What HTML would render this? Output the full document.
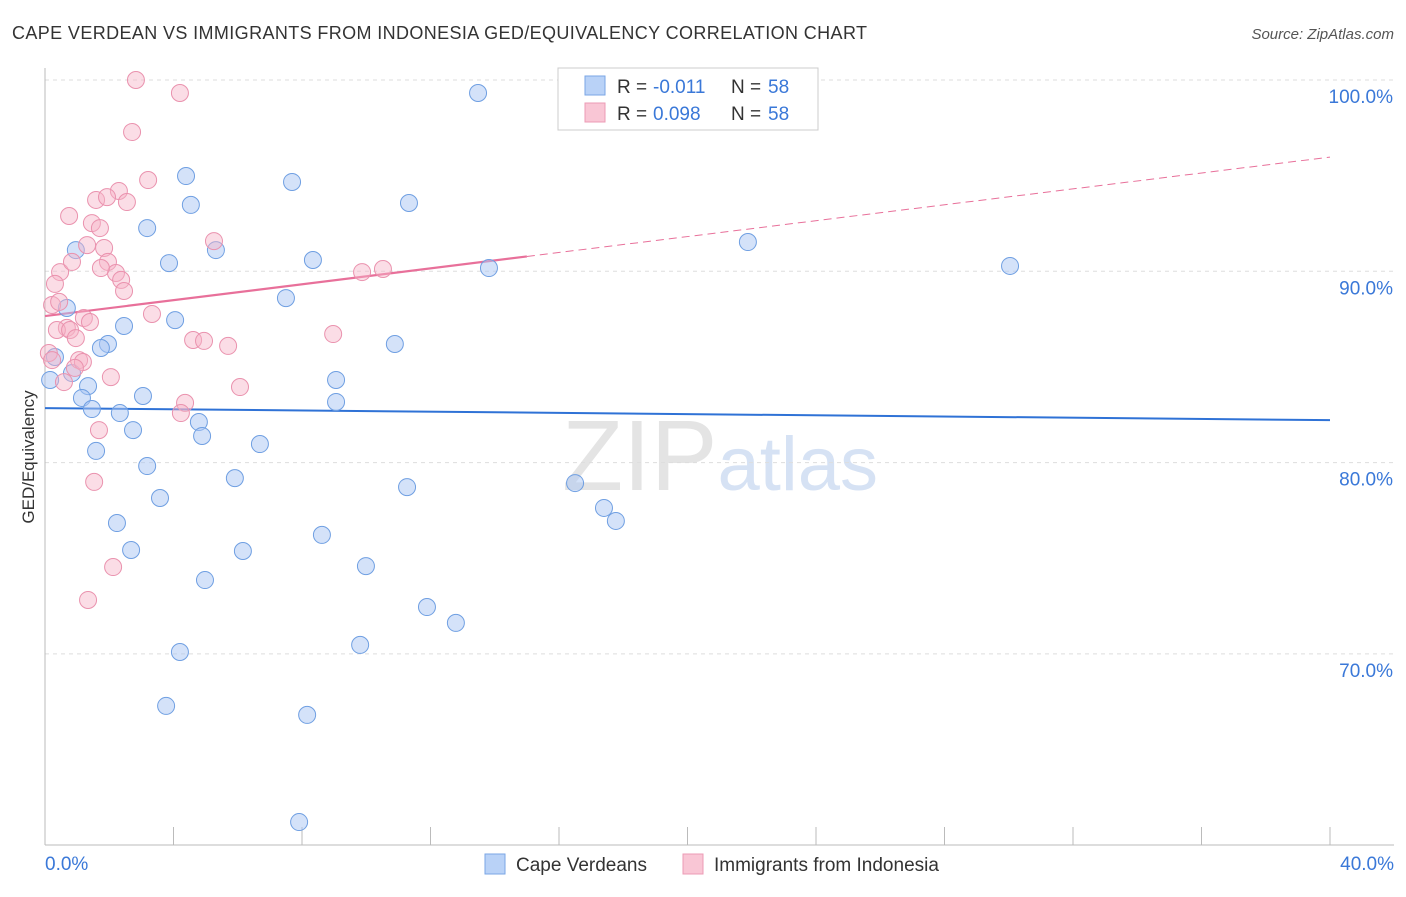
<!DOCTYPE html>
<html><head><meta charset="utf-8">
<style>
body{margin:0;background:#fff;font-family:"Liberation Sans",sans-serif;}
svg text{font-family:"Liberation Sans",sans-serif;}
</style></head>
<body>
<svg id="chart" width="1406" height="892" xmlns="http://www.w3.org/2000/svg">
<text x="12" y="39" font-size="18" fill="#333" textLength="855" lengthAdjust="spacing">CAPE VERDEAN VS IMMIGRANTS FROM INDONESIA GED/EQUIVALENCY CORRELATION CHART</text>
<text x="1394" y="39" font-size="15" fill="#555" text-anchor="end" font-style="italic">Source: ZipAtlas.com</text>
<text x="720" y="490" font-size="96" text-anchor="middle" fill="#e4e4e4" font-family="Liberation Serif"><tspan font-size="100">ZIP</tspan><tspan fill="#d6e2f4" font-family="Liberation Sans" font-size="76">atlas</tspan></text>
<text transform="translate(34,457) rotate(-90)" font-size="17" fill="#333" text-anchor="middle">GED/Equivalency</text>
<g id="grid"></g><g id="axes"></g><g id="trends"></g><g id="points"></g>
<g>
<rect x="558" y="68" width="260" height="62" fill="#fff" stroke="#ccc"/>
<rect x="585" y="76" width="20" height="19" fill="#b9d2f7" stroke="#7aa6e6"/>
<rect x="585" y="103" width="20" height="19" fill="#f9c6d5" stroke="#ec9bb5"/>
<text x="617" y="93" font-size="19" fill="#333">R =</text>
<text x="653" y="93" font-size="19" fill="#3a78d8">-0.011</text>
<text x="731" y="93" font-size="19" fill="#333">N =</text>
<text x="768" y="93" font-size="19" fill="#3a78d8">58</text>
<text x="617" y="120" font-size="19" fill="#333">R =</text>
<text x="653" y="120" font-size="19" fill="#3a78d8">0.098</text>
<text x="731" y="120" font-size="19" fill="#333">N =</text>
<text x="768" y="120" font-size="19" fill="#3a78d8">58</text>
</g>
<g>
<rect x="485" y="854" width="20" height="20" fill="#b9d2f7" stroke="#7aa6e6"/>
<text x="516" y="871" font-size="19" fill="#333">Cape Verdeans</text>
<rect x="683" y="854" width="20" height="20" fill="#f9c6d5" stroke="#ec9bb5"/>
<text x="714" y="871" font-size="19" fill="#333">Immigrants from Indonesia</text>
</g>
</svg>
<script>
const yTicks=[100,90,80,70];
const yTickLabels=["100.0%","90.0%","80.0%","70.0%"];
const xTicks=[0,4,8,12,16,20,24,28,32,36,40];
const blueX=[13.48,4.39,7.69,4.54,11.33,3.18,21.88,5.32,0.96,8.34,3.86,13.82,30.04,7.50,0.68,4.05,2.46,1.96,1.74,10.89,0.31,0.16,0.84,1.34,9.06,3.05,1.15,9.06,1.46,2.33,4.79,2.74,4.89,6.69,1.59,3.18,5.91,11.27,3.58,16.50,17.40,17.77,2.24,8.62,2.68,6.16,9.99,4.98,11.89,12.79,9.81,4.20,3.77,8.16,7.91];
const blueY=[99.32,94.98,94.67,93.47,93.57,92.26,91.53,91.11,91.11,90.59,90.43,90.17,90.28,88.60,88.08,87.45,87.14,86.20,85.99,86.20,85.52,84.32,84.68,84.00,84.32,83.48,83.38,83.17,82.80,82.59,82.12,81.70,81.39,80.97,80.61,79.82,79.19,78.72,78.15,78.93,77.63,76.95,76.84,76.22,75.43,75.38,74.59,73.86,72.45,71.62,70.47,70.10,67.28,66.81,61.21];
const pinkX=[2.83,4.20,2.71,3.21,2.30,1.59,2.55,1.93,0.75,1.46,1.71,1.31,5.26,1.84,0.47,0.84,1.96,2.21,1.74,2.37,2.46,9.87,10.52,0.31,0.22,0.44,1.21,1.40,3.33,0.68,0.37,0.78,0.96,4.61,4.95,5.70,8.97,0.12,0.22,1.06,1.18,0.93,2.05,0.59,6.07,4.36,4.23,1.68,1.53,2.12,1.34];
const pinkY=[100,99.32,97.28,94.77,94.20,93.73,93.62,93.88,92.89,92.52,92.26,91.37,91.58,91.22,89.96,90.49,90.49,89.91,90.17,89.55,88.97,89.96,90.12,89.34,88.24,88.40,87.56,87.35,87.77,87.04,86.93,86.93,86.51,86.41,86.36,86.10,86.72,85.73,85.36,85.36,85.26,84.95,84.47,84.21,83.95,83.12,82.59,81.70,78.99,74.54,72.82];
const blueTrend=[82.85,82.22];
const pinkTrend=[87.66,95.97];
const pinkSolidEnd=15;

const NS="http://www.w3.org/2000/svg";
const X=v=>45+v*32.125;
const Y=v=>80+(100-v)*19.13;
function mk(tag,attrs,parent){const e=document.createElementNS(NS,tag);for(const k in attrs)e.setAttribute(k,attrs[k]);parent.appendChild(e);return e;}
const grid=document.getElementById('grid'),axes=document.getElementById('axes'),trends=document.getElementById('trends'),pts=document.getElementById('points');
yTicks.forEach((t,i)=>{
  const l=mk('line',{x1:45,x2:1394,y1:Y(t),y2:Y(t),stroke:'#ddd','stroke-dasharray':'4,4'},grid);
  
  
  const tx=mk('text',{x:1393,y:Y(t)+23,'font-size':19,fill:'#3a78d8','text-anchor':'end'},grid);
  tx.textContent=yTickLabels[i];
  
  
});
const ax=mk('line',{x1:45,x2:45,y1:68,y2:845,stroke:'#bbb'},axes);


const bx=mk('line',{x1:45,x2:1394,y1:845,y2:845,stroke:'#bbb'},axes);


xTicks.forEach(t=>{
  const l=mk('line',{x1:X(t),x2:X(t),y1:827,y2:845,stroke:'#bbb'},axes);
  
  
});
const xl0=mk('text',{x:45,y:870,'font-size':19,fill:'#3a78d8'},axes);xl0.textContent='0.0%';


const xl1=mk('text',{x:1394,y:870,'font-size':19,fill:'#3a78d8','text-anchor':'end'},axes);xl1.textContent='40.0%';



blueX.forEach((v,i)=>{
  const c=mk('circle',{cx:X(v),cy:Y(blueY[i]),r:8.5,fill:'rgba(170,198,244,0.5)',stroke:'#6f9fe2','stroke-width':1},pts);
  
  
});
pinkX.forEach((v,i)=>{
  const c=mk('circle',{cx:X(v),cy:Y(pinkY[i]),r:8.5,fill:'rgba(247,180,200,0.45)',stroke:'#ea92ae','stroke-width':1},pts);
  
  
});
const bt=mk('line',{x1:X(0),y1:Y(blueTrend[0]),x2:X(40),y2:Y(blueTrend[1]),stroke:'#2f72d6','stroke-width':2},trends);


const pAt=x=>pinkTrend[0]+(pinkTrend[1]-pinkTrend[0])*x/40;
const pt1=mk('line',{x1:X(0),y1:Y(pAt(0)),x2:X(pinkSolidEnd),y2:Y(pAt(pinkSolidEnd)),stroke:'#e8709a','stroke-width':2.2},trends);


const pt2=mk('line',{x1:X(pinkSolidEnd),y1:Y(pAt(pinkSolidEnd)),x2:X(40),y2:Y(pAt(40)),stroke:'#e8709a','stroke-width':1,'stroke-dasharray':'8,5'},trends);


</script>
</body></html>
